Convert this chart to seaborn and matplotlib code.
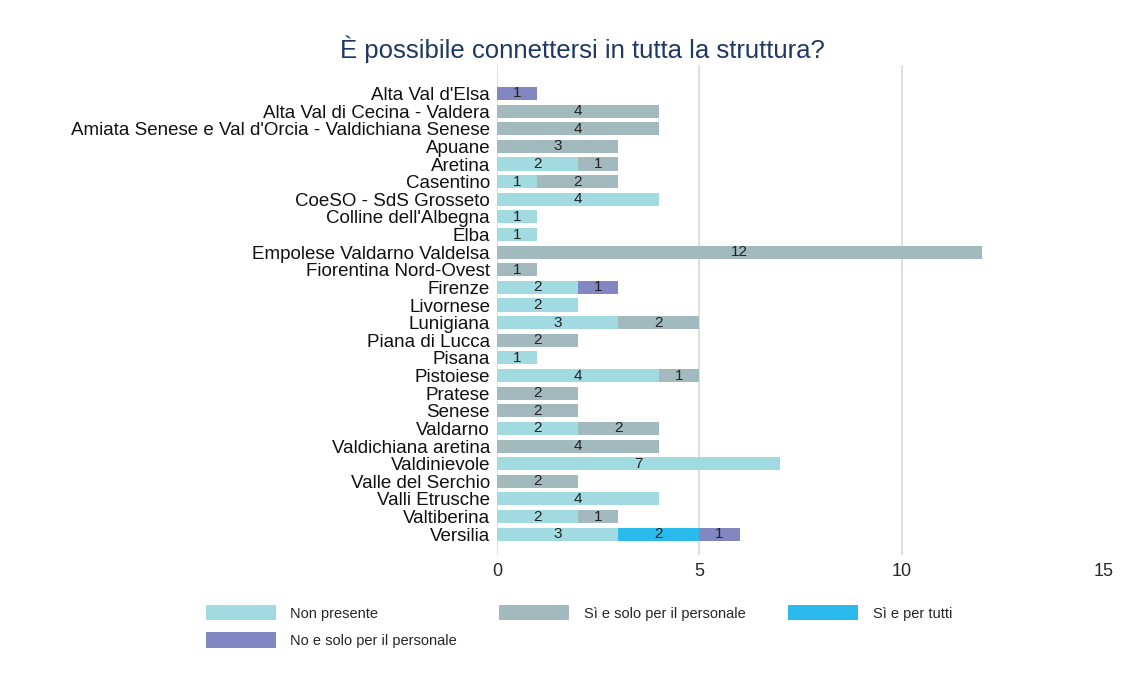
import numpy as np
import pandas as pd
import seaborn as sns
import matplotlib.pyplot as plt
from matplotlib.patches import Patch

categories = ["Alta Val d'Elsa", "Alta Val di Cecina - Valdera",
              "Amiata Senese e Val d'Orcia - Valdichiana Senese", "Apuane", "Aretina",
              "Casentino", "CoeSO - SdS Grosseto", "Colline dell'Albegna", "Elba",
              "Empolese Valdarno Valdelsa", "Fiorentina Nord-Ovest", "Firenze", "Livornese",
              "Lunigiana", "Piana di Lucca", "Pisana", "Pistoiese", "Pratese", "Senese",
              "Valdarno", "Valdichiana aretina", "Valdinievole", "Valle del Serchio",
              "Valli Etrusche", "Valtiberina", "Versilia"]

non_presente = [0, 0, 0, 0, 2, 1, 4, 1, 1, 0, 0, 2, 2, 3, 0, 1, 4, 0, 0, 2, 0, 7, 0, 4, 2, 3]
si_personale = [0, 4, 4, 3, 1, 2, 0, 0, 0, 12, 1, 0, 0, 2, 2, 0, 1, 2, 2, 2, 4, 0, 2, 0, 1, 0]
si_tutti = [0, 0, 0, 0, 0, 0, 0, 0, 0, 0, 0, 0, 0, 0, 0, 0, 0, 0, 0, 0, 0, 0, 0, 0, 0, 2]
no_personale = [1, 0, 0, 0, 0, 0, 0, 0, 0, 0, 0, 1, 0, 0, 0, 0, 0, 0, 0, 0, 0, 0, 0, 0, 0, 1]

series_names = ["Non presente", "Sì e solo per il personale", "Sì e per tutti",
                "No e solo per il personale"]
colors = ["#A2DAE2", "#A2BABE", "#2ABAEB", "#8387C1"]

sns.set_theme(style="white")
plt.rcParams['font.family'] = ['Liberation Sans', 'DejaVu Sans']

df = pd.DataFrame({"cat": categories, "s0": non_presente, "s1": si_personale,
                   "s2": si_tutti, "s3": no_personale})
cols = ["s0", "s1", "s2", "s3"]
cum = df[cols].cumsum(axis=1)

fig = plt.figure(figsize=(11.33, 6.82), dpi=100)
ax = fig.add_axes([0.4387, 0.186, 0.5355, 0.718])

# stack by overlapping cumulative totals, drawn from the largest down
for i in range(3, -1, -1):
    sns.barplot(x=cum[cols[i]], y=df["cat"], color=colors[i], orient="h",
                width=0.74, linewidth=0, saturation=1, ax=ax)

for i, c in enumerate(cols):
    starts = cum[c] - df[c]
    for j, v in enumerate(df[c]):
        if v > 0:
            ax.text(starts[j] + v / 2, j, str(v), ha="center", va="center",
                    fontsize=11, color="#222222")

ax.set_xlim(0, 15)
ax.set_ylim(26.19, -1.59)
ax.set_xticks([0, 5, 10, 15])
for t in [0, 5, 10]:
    ax.axvline(t, color="#D9D9D9", lw=1.2, zorder=0)
ax.tick_params(axis="y", labelsize=13.5, pad=5, length=0)
ax.tick_params(axis="x", labelsize=13, pad=6, length=0)
for lab in ax.get_yticklabels():
    lab.set_color("#111111")
ax.set_xlabel("")
ax.set_ylabel("")
sns.despine(ax=ax, left=True, bottom=True)

fig.suptitle("È possibile connettersi in tutta la struttura?", x=0.514, y=0.948,
             fontsize=18.5, color="#1F3864")

# legend fills column-wise, so order entries to read row-wise
order = [0, 3, 1, 2]
handles = [Patch(facecolor=colors[k], edgecolor="none") for k in order]
labels = [series_names[k] for k in order]
fig.legend(handles, labels, loc="upper left", bbox_to_anchor=(0.170, 0.132),
           ncol=3, frameon=False, fontsize=10.5, handlelength=4.8, handleheight=1.23,
           handletextpad=1.0, columnspacing=2.9, labelspacing=0.8)

fig.savefig("out.png", dpi=100)
